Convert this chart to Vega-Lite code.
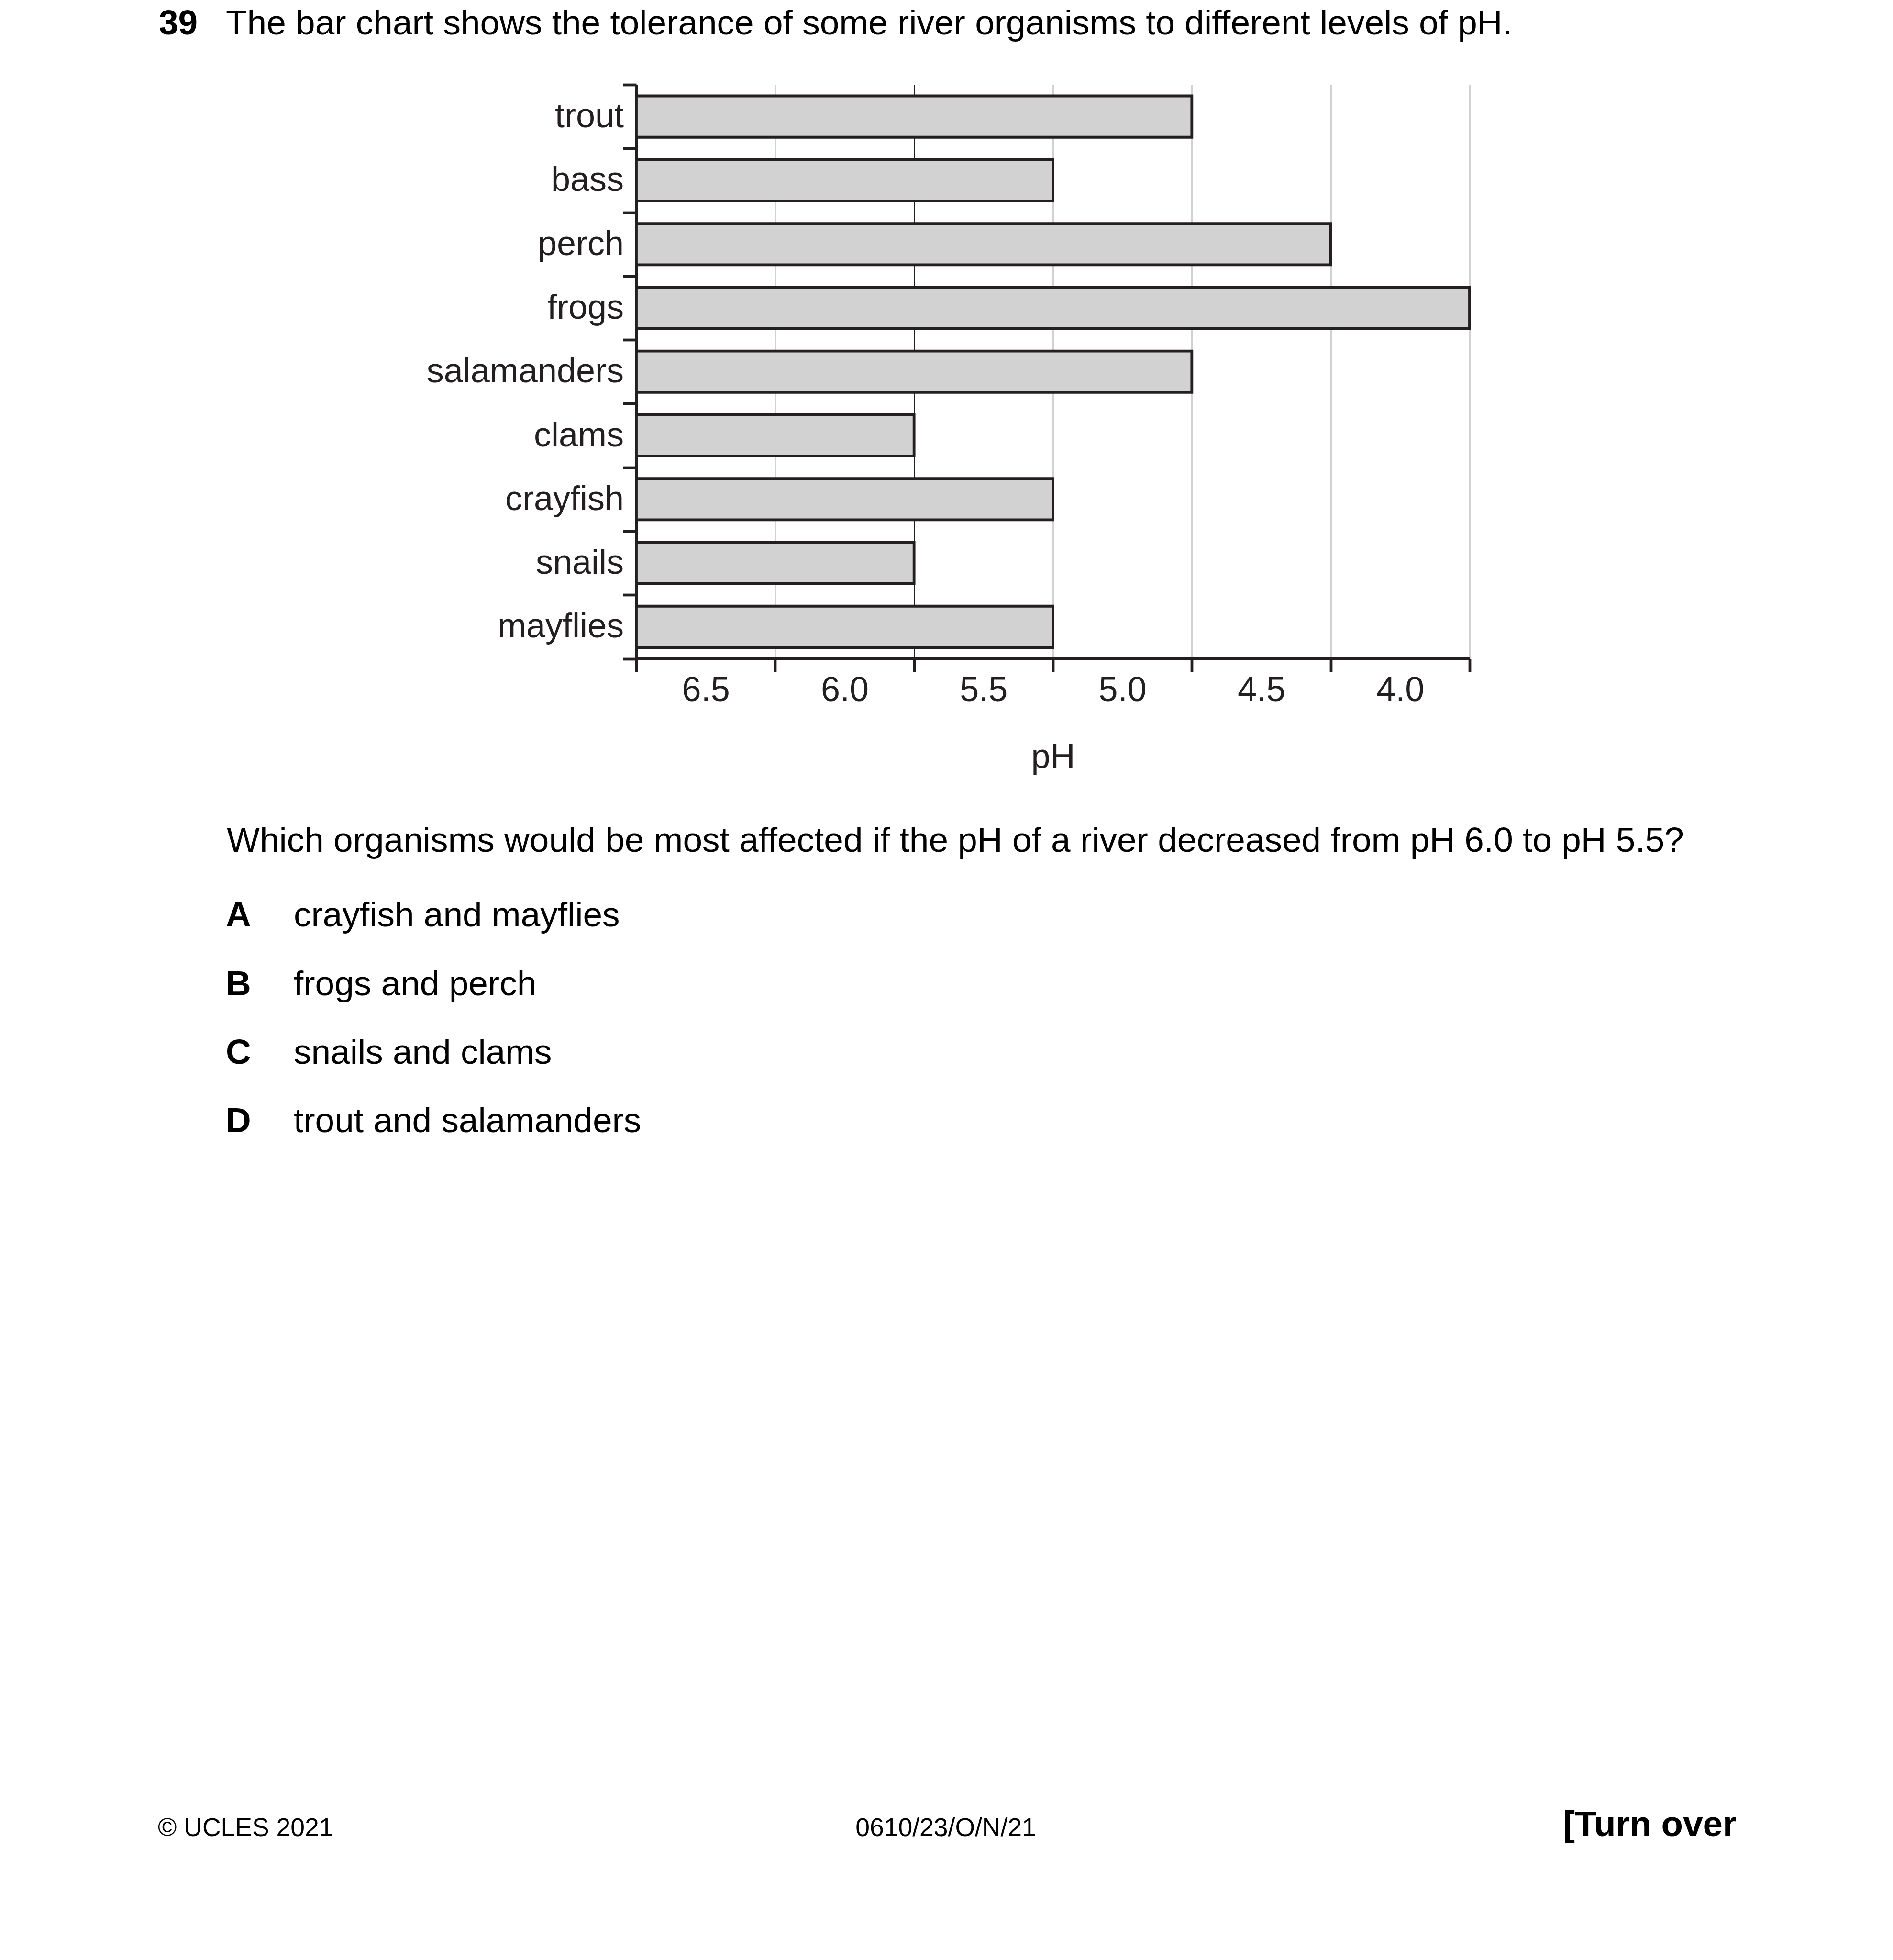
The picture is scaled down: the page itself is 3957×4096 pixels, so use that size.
{
  "$schema": "https://vega.github.io/schema/vega-lite/v6.json",
  "autosize": {"type": "none"},
  "padding": {"left": 1330, "top": 177, "right": 885, "bottom": 2720},
  "width": 1742,
  "height": 1199.5,
  "background": "white",
  "config": {"view": {"stroke": null}, "font": "Liberation Sans"},
  "layer": [
    {
      "data": {"values": [
        {"organism": "trout", "bar_end_pH": 4.75},
        {"organism": "bass", "bar_end_pH": 5.25},
        {"organism": "perch", "bar_end_pH": 4.25},
        {"organism": "frogs", "bar_end_pH": 3.75},
        {"organism": "salamanders", "bar_end_pH": 4.75},
        {"organism": "clams", "bar_end_pH": 5.75},
        {"organism": "crayfish", "bar_end_pH": 5.25},
        {"organism": "snails", "bar_end_pH": 5.75},
        {"organism": "mayflies", "bar_end_pH": 5.25}
      ]},
      "mark": {"type": "bar", "fill": "#d2d2d2", "stroke": "#231f20", "strokeWidth": 5.8, "height": {"band": 0.647}},
      "encoding": {
        "y": {
          "field": "organism", "type": "nominal", "sort": null,
          "scale": {"paddingInner": 0, "paddingOuter": 0},
          "axis": {
            "title": null, "tickBand": "extent", "grid": false,
            "domainColor": "#231f20", "domainWidth": 6.2,
            "tickColor": "#231f20", "tickSize": 28, "tickWidth": 5.75,
            "labelFont": "Liberation Sans", "labelFontSize": 72, "labelColor": "#231f20",
            "labelLimit": 0,
            "labelPadding": -1.5, "labelAlign": "right", "labelBaseline": "middle"
          }
        },
        "x": {
          "field": "bar_end_pH", "type": "quantitative",
          "scale": {"domain": [6.75, 3.75], "nice": false, "zero": false},
          "axis": {
            "values": [6.75, 6.5, 6.25, 6, 5.75, 5.5, 5.25, 5, 4.75, 4.5, 4.25, 4, 3.75],
            "labelExpr": "(datum.value*4)%2==1 ? '' : format(datum.value, '.1f')",
            "labelOverlap": false, "labelFlush": false, "labelBound": false,
            "grid": true, "gridColor": "#231f20", "gridWidth": 1.4,
            "gridOpacity": {"condition": {"test": "(datum.value*4)%2==1", "value": 1}, "value": 0},
            "tickOpacity": {"condition": {"test": "(datum.value*4)%2==1", "value": 1}, "value": 0},
            "domainColor": "#231f20", "domainWidth": 6.2,
            "tickColor": "#231f20", "tickSize": 27.7, "tickWidth": 5.75,
            "labelFont": "Liberation Sans", "labelFontSize": 72, "labelColor": "#231f20",
            "labelPadding": 3,
            "title": "pH", "titleFont": "Liberation Sans", "titleFontSize": 72, "titleFontWeight": "normal",
            "titleColor": "#231f20", "titleX": 871, "titleY": 227.5, "titleBaseline": "alphabetic", "titleAlign": "center"
          }
        },
        "x2": {"datum": 6.75}
      }
    },
    {
      "data": {"values": [{}]},
      "mark": {"type": "text", "text": "39", "x": -998, "y": -105.4, "align": "left", "baseline": "alphabetic", "font": "Liberation Sans", "fontSize": 73, "fontWeight": "bold", "color": "#000000"}
    },
    {
      "data": {"values": [{}]},
      "mark": {"type": "text", "text": "The bar chart shows the tolerance of some river organisms to different levels of pH.", "x": -858, "y": -105.4, "align": "left", "baseline": "alphabetic", "font": "Liberation Sans", "fontSize": 73, "color": "#000000"}
    },
    {
      "data": {"values": [{}]},
      "mark": {"type": "text", "text": "Which organisms would be most affected if the pH of a river decreased from pH 6.0 to pH 5.5?", "x": -856, "y": 1603, "align": "left", "baseline": "alphabetic", "font": "Liberation Sans", "fontSize": 73, "color": "#000000"}
    },
    {
      "data": {"values": [{}]},
      "mark": {"type": "text", "text": ["A", "B", "C", "D"], "lineHeight": 143.3, "x": -858, "y": 1759.3, "align": "left", "baseline": "alphabetic", "font": "Liberation Sans", "fontSize": 73, "fontWeight": "bold", "color": "#000000"}
    },
    {
      "data": {"values": [{}]},
      "mark": {"type": "text", "text": ["crayfish and mayflies", "frogs and perch", "snails and clams", "trout and salamanders"], "lineHeight": 143.3, "x": -716, "y": 1759.3, "align": "left", "baseline": "alphabetic", "font": "Liberation Sans", "fontSize": 73, "color": "#000000"}
    },
    {
      "data": {"values": [{}]},
      "mark": {"type": "text", "text": "© UCLES 2021", "x": -1000, "y": 3660, "align": "left", "baseline": "alphabetic", "font": "Liberation Sans", "fontSize": 53.5, "color": "#000000"}
    },
    {
      "data": {"values": [{}]},
      "mark": {"type": "text", "text": "0610/23/O/N/21", "x": 647, "y": 3660, "align": "center", "baseline": "alphabetic", "font": "Liberation Sans", "fontSize": 53.5, "color": "#000000"}
    },
    {
      "data": {"values": [{}]},
      "mark": {"type": "text", "text": "[Turn over", "x": 2300, "y": 3660, "align": "right", "baseline": "alphabetic", "font": "Liberation Sans", "fontSize": 74.5, "fontWeight": "bold", "color": "#000000"}
    }
  ]
}
